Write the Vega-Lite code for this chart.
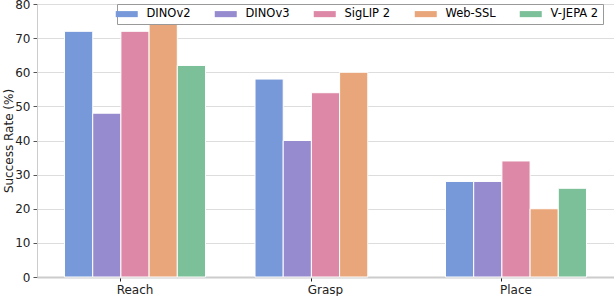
{
  "$schema": "https://vega.github.io/schema/vega-lite/v6.json",
  "autosize": {"type": "none"},
  "padding": {"left": 37, "top": 4, "right": 0, "bottom": 19},
  "width": 577,
  "height": 273,
  "background": "white",
  "config": {
    "font": "DejaVu Sans",
    "view": {"stroke": null},
    "axis": {"labelFont": "DejaVu Sans", "titleFont": "DejaVu Sans", "titleFontWeight": "normal", "labelColor": "#222", "titleColor": "#222"},
    "legend": {"labelFont": "DejaVu Sans"}
  },
  "data": {
    "values": [
      {"task": "Reach", "model": "DINOv2", "value": 72},
      {"task": "Reach", "model": "DINOv3", "value": 48},
      {"task": "Reach", "model": "SigLIP 2", "value": 72},
      {"task": "Reach", "model": "Web-SSL", "value": 74},
      {"task": "Reach", "model": "V-JEPA 2", "value": 62},
      {"task": "Grasp", "model": "DINOv2", "value": 58},
      {"task": "Grasp", "model": "DINOv3", "value": 40},
      {"task": "Grasp", "model": "SigLIP 2", "value": 54},
      {"task": "Grasp", "model": "Web-SSL", "value": 60},
      {"task": "Place", "model": "DINOv2", "value": 28},
      {"task": "Place", "model": "DINOv3", "value": 28},
      {"task": "Place", "model": "SigLIP 2", "value": 34},
      {"task": "Place", "model": "Web-SSL", "value": 20},
      {"task": "Place", "model": "V-JEPA 2", "value": 26}
    ]
  },
  "mark": {"type": "bar", "stroke": "white", "strokeWidth": 1},
  "encoding": {
    "x": {
      "field": "task", "type": "nominal", "sort": ["Reach", "Grasp", "Place"],
      "scale": {"type": "band", "paddingInner": 0.26, "paddingOuter": 0.1445},
      "axis": {"title": null, "labelAngle": 0, "bandPosition": 0.4, "labelFontSize": 12, "labelPadding": 3, "tickSize": 4, "tickColor": "#222", "domainColor": "#cccccc", "domainWidth": 2, "grid": false}
    },
    "xOffset": {
      "field": "model", "type": "nominal",
      "scale": {"domain": ["DINOv2", "DINOv3", "SigLIP 2", "Web-SSL", "V-JEPA 2"], "paddingInner": 0, "paddingOuter": 0}
    },
    "y": {
      "field": "value", "type": "quantitative",
      "scale": {"domain": [0, 80], "nice": false},
      "axis": {"title": "Success Rate (%)", "values": [0, 10, 20, 30, 40, 50, 60, 70, 80], "labelFontSize": 12, "titleFontSize": 12, "titleX": -22, "titleBaseline": "bottom", "tickSize": 4, "labelPadding": 3, "tickColor": "#555", "domainColor": "#cccccc", "gridColor": "#dddddd", "grid": true}
    },
    "color": {
      "field": "model", "type": "nominal",
      "scale": {"domain": ["DINOv2", "DINOv3", "SigLIP 2", "Web-SSL", "V-JEPA 2"], "range": ["#7799d9", "#968bcf", "#dd88a6", "#e9a67a", "#7bc098"]},
      "legend": {
        "title": null, "orient": "none", "legendX": 80, "legendY": 0, "direction": "horizontal",
        "symbolType": "M-2,-0.55H2V0.55H-2Z", "symbolSize": 121, "symbolStrokeWidth": 0,
        "labelFontSize": 11.5, "labelOffset": 14, "columnPadding": 23, "padding": 4,
        "strokeColor": "#999999", "fillColor": "white"
      }
    }
  }
}
